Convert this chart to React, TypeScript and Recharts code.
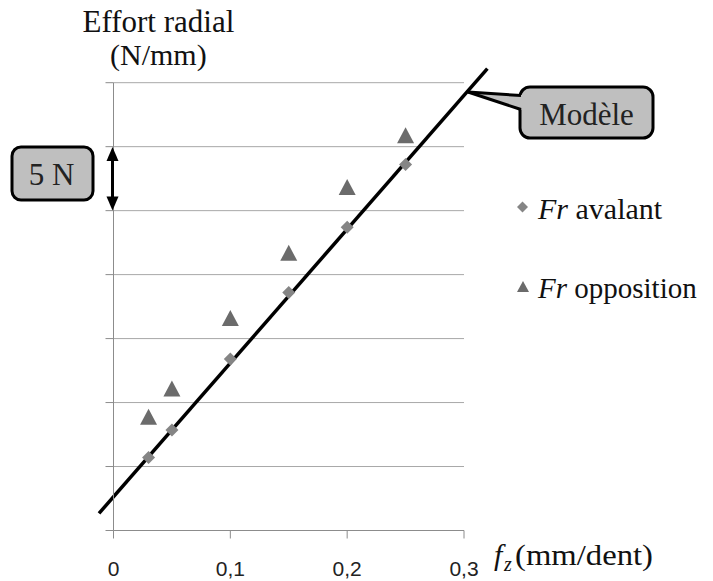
import {
  ScatterChart,
  Scatter,
  XAxis,
  YAxis,
  CartesianGrid,
  ReferenceLine,
} from "recharts";

// f_z (mm/dent)
const fzValues = [0.03, 0.05, 0.1, 0.15, 0.2, 0.25];
// Fr avalant (N/mm)
const avalantValues = [5.7, 7.85, 13.4, 18.6, 23.7, 28.6];
// Fr opposition (N/mm)
const oppositionValues = [8.9, 11.1, 16.6, 21.7, 26.85, 30.9];
// model line end points
const modelX = [-0.0124, 0.32];
const modelY = [1.34, 36.1];

const xTicks = [0, 0.1, 0.2, 0.3];
const yTicks = [0, 5, 10, 15, 20, 25, 30, 35];

const avalantData = fzValues.map((x, i) => ({ x, y: avalantValues[i] }));
const oppositionData = fzValues.map((x, i) => ({ x, y: oppositionValues[i] }));

const SERIF = "'Liberation Serif', 'Times New Roman', serif";
const SANS = "'Liberation Sans', Arial, sans-serif";
const AXIS_GREY = "#8c8c8c";

const serif = (size: number, italic = false) => ({
  fontFamily: SERIF,
  fontSize: size,
  fontStyle: italic ? "italic" : "normal",
});

const Diamond = (props: any) => {
  const { cx, cy } = props;
  const r = 6.5;
  return (
    <polygon
      points={`${cx},${cy - r} ${cx + r},${cy} ${cx},${cy + r} ${cx - r},${cy}`}
      fill="#858585"
    />
  );
};

const Triangle = (props: any) => {
  const { cx, cy } = props;
  const w = 8.5;
  const h = 8;
  return (
    <polygon
      points={`${cx},${cy - h} ${cx + w},${cy + h} ${cx - w},${cy + h}`}
      fill="#6b6b6b"
    />
  );
};

const XTick = (props: any) => {
  const { x, y, payload } = props;
  return (
    <text
      x={x}
      y={y + 35}
      textAnchor="middle"
      fill="#222"
      style={{ fontFamily: SANS, fontSize: 21 }}
    >
      {String(payload.value).replace(".", ",")}
    </text>
  );
};

export default function App() {
  return (
    <div style={{ position: "absolute", left: 0, top: 0, width: 713, height: 581, background: "#fff" }}>
      <ScatterChart
        width={713}
        height={581}
        margin={{ top: 82.7, right: 249, bottom: 0.5, left: 105.5 }}
      >
        <CartesianGrid vertical={false} stroke="#a8a8a8" />
        <XAxis
          type="number"
          dataKey="x"
          domain={[0, 0.3]}
          ticks={xTicks}
          height={50}
          tickSize={8}
          stroke={AXIS_GREY}
          tick={<XTick />}
        />
        <YAxis
          type="number"
          dataKey="y"
          domain={[0, 35]}
          ticks={yTicks}
          width={8}
          tickSize={8}
          stroke={AXIS_GREY}
          tickFormatter={() => ""}
        />
        <Scatter data={avalantData} shape={Diamond} isAnimationActive={false} />
        <Scatter data={oppositionData} shape={Triangle} isAnimationActive={false} />
        <ReferenceLine
          segment={[
            { x: modelX[0], y: modelY[0] },
            { x: modelX[1], y: modelY[1] },
          ]}
          stroke="#000"
          strokeWidth={3.5}
          ifOverflow="visible"
        />
      </ScatterChart>

      <svg
        width={713}
        height={581}
        style={{ position: "absolute", left: 0, top: 0, pointerEvents: "none" }}
      >
        {/* titles */}
        <text x={82.5} y={31.7} style={serif(31)} fill="#111">
          Effort radial
        </text>
        <text x={110} y={65} style={serif(30)} fill="#111">
          (N/mm)
        </text>

        {/* x axis title */}
        <text x={494} y={565} style={serif(30, true)} fill="#111">
          f
        </text>
        <text x={504} y={571} style={serif(20, true)} fill="#111">
          z
        </text>
        <text transform="translate(515,565) scale(1.09,1)" style={serif(30)} fill="#111">
          (mm/dent)
        </text>

        {/* 5 N scale */}
        <rect x={12} y={147} width={81} height={53} rx={9} fill="#bfbfbf" stroke="#000" strokeWidth={3} />
        <text x={51.5} y={185} textAnchor="middle" style={serif(31)} fill="#222">
          5 N
        </text>
        <line x1={112.5} y1={158} x2={112.5} y2={199} stroke="#000" strokeWidth={3} />
        <polygon points="112.5,147 118.5,161 106.5,161" fill="#000" />
        <polygon points="112.5,210.5 118.5,196.5 106.5,196.5" fill="#000" />

        {/* Modèle callout */}
        <rect x={520} y={87} width={133} height={51} rx={10} fill="#bfbfbf" stroke="#000" strokeWidth={3} />
        <polygon points="468,92 523,95 523,110" fill="#bfbfbf" />
        <line x1={468} y1={92} x2={521} y2={95.5} stroke="#000" strokeWidth={3} />
        <line x1={468} y1={92} x2={521} y2={109.5} stroke="#000" strokeWidth={3} />
        <text x={586.5} y={125} textAnchor="middle" style={serif(31)} fill="#222">
          Modèle
        </text>

        {/* legend */}
        <polygon points="522.5,201.5 528,207 522.5,212.5 517,207" fill="#858585" />
        <text x={538} y={218.5} style={serif(30)} fill="#111">
          <tspan fontStyle="italic">Fr</tspan> avalant
        </text>
        <polygon points="523,281 529,292 517,292" fill="#6b6b6b" />
        <text x={538} y={298} style={serif(29)} fill="#111">
          <tspan fontStyle="italic">Fr</tspan> opposition
        </text>
      </svg>
    </div>
  );
}
